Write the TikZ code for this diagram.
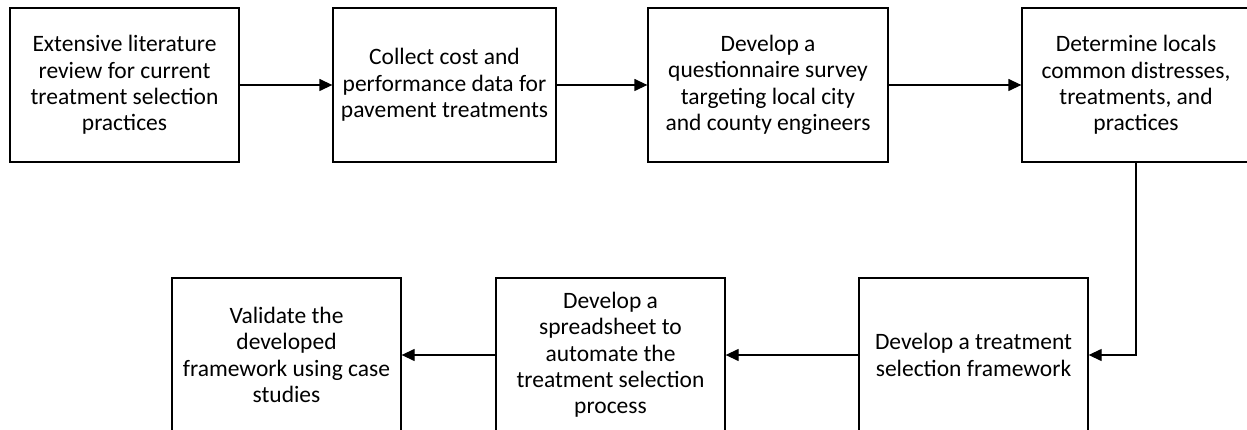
\documentclass[tikz,border=0pt]{standalone}
\usepackage{fontspec}
\setmainfont{Carlito}
\usetikzlibrary{arrows.meta}
\begin{document}
\begin{tikzpicture}[x=1pt,y=-1pt,
  stepbox/.style={draw=black,line width=1.3pt,inner sep=0pt,minimum height=154pt,align=center,
    font=\fontsize{23.5}{26.3}\selectfont},
  flow/.style={line width=1.3pt,-{Triangle[length=13pt,width=12pt]}}]
\useasboundingbox (0,0) rectangle (1247,430);
\node[stepbox,minimum width=229pt] (b1) at (124.5,85) {Extensive literature\\review for current\\treatment selection\\practices};
\node[stepbox,minimum width=223pt] (b2) at (444.5,85) {Collect cost and\\performance data for\\pavement treatments};
\node[stepbox,minimum width=240pt] (b3) at (768,85) {Develop a\\questionnaire survey\\targeting local city\\and county engineers};
\node[stepbox,minimum width=228pt] (b4) at (1136,85) {Determine locals\\common distresses,\\treatments, and\\practices};
\node[stepbox,minimum width=229pt] (b5) at (973.5,355) {Develop a treatment\\selection framework};
\node[stepbox,minimum width=229pt] (b6) at (610.5,355) {Develop a\\spreadsheet to\\automate the\\treatment selection\\process};
\node[stepbox,minimum width=229pt] (b7) at (286.5,355) {Validate the\\developed\\framework using case\\studies};
\draw[flow] (b1) -- (b2);
\draw[flow] (b2) -- (b3);
\draw[flow] (b3) -- (b4);
\draw[flow] (b4.south) |- (b5.east);
\draw[flow] (b5) -- (b6);
\draw[flow] (b6) -- (b7);
\end{tikzpicture}
\end{document}
